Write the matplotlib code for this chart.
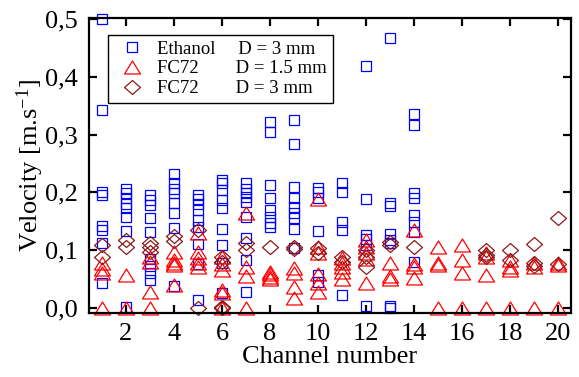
import matplotlib
matplotlib.use("Agg")
import matplotlib.pyplot as plt
from matplotlib.path import Path
from matplotlib.markers import MarkerStyle
from matplotlib.ticker import FixedLocator, FuncFormatter

plt.rcParams['font.family'] = ['Liberation Serif', 'DejaVu Serif']
plt.rcParams['mathtext.fontset'] = 'custom'
plt.rcParams['mathtext.rm'] = 'Liberation Serif'
plt.rcParams['mathtext.it'] = 'Liberation Serif:italic'

# Measured velocities per channel (m/s)
eth_channels = list(range(1, 15))
eth_vel = [
    [0.50, 0.343, 0.201, 0.196, 0.142, 0.135, 0.113, 0.043],
    [0.206, 0.198, 0.19, 0.18, 0.172, 0.158, 0.133, 0.002],
    [0.195, 0.187, 0.178, 0.156, 0.132, 0.085, 0.072, 0.06, 0.048],
    [0.232, 0.217, 0.205, 0.199, 0.182, 0.165, 0.139, 0.038],
    [0.196, 0.188, 0.18, 0.17, 0.152, 0.14, 0.11, 0.075, 0.013],
    [0.222, 0.216, 0.204, 0.187, 0.172, 0.137, 0.109, 0.078, 0.026],
    [0.216, 0.205, 0.198, 0.192, 0.184, 0.158, 0.121, 0.083, 0.028],
    [0.321, 0.305, 0.213, 0.19, 0.17, 0.158, 0.147, 0.14],
    [0.326, 0.283, 0.21, 0.19, 0.174, 0.165, 0.156, 0.137, 0.104],
    [0.208, 0.2, 0.19, 0.133, 0.057, 0.045],
    [0.217, 0.201, 0.149, 0.135, 0.023],
    [0.418, 0.189, 0.126, 0.119, 0.108, 0.003],
    [0.468, 0.182, 0.177, 0.127, 0.118, 0.112, 0.003, 0.0],
    [0.336, 0.317, 0.198, 0.19, 0.161, 0.149, 0.132, 0.08],
]

fc15_channels = list(range(1, 21))
fc15_vel = [
    [0.077, 0.068, 0.06, 0.0],
    [0.057, 0.0],
    [0.088, 0.08, 0.028, 0.0],
    [0.096, 0.082, 0.078, 0.074, 0.04],
    [0.13, 0.097, 0.087, 0.078, 0.071],
    [0.088, 0.075, 0.066, 0.03, 0.026, 0.0],
    [0.165, 0.07, 0.055, 0.0],
    [0.062, 0.058, 0.054, 0.05],
    [0.069, 0.06, 0.036, 0.017],
    [0.188, 0.105, 0.095, 0.058, 0.043, 0.028],
    [0.087, 0.078, 0.07, 0.062, 0.05],
    [0.118, 0.105, 0.095, 0.085, 0.043],
    [0.078, 0.055, 0.05],
    [0.135, 0.075, 0.07, 0.052],
    [0.106, 0.078, 0.074, 0.0],
    [0.109, 0.083, 0.06, 0.0],
    [0.095, 0.088, 0.057, 0.0],
    [0.083, 0.07, 0.066, 0.0],
    [0.078, 0.07, 0.0],
    [0.078, 0.074, 0.0],
]

fc3_channels = list(range(1, 21))
fc3_vel = [
    [0.109, 0.088],
    [0.118, 0.106],
    [0.113, 0.105, 0.097],
    [0.125, 0.116],
    [0.134, 0.0],
    [0.088, 0.08, 0.002, 0.0],
    [0.113, 0.1],
    [0.106],
    [0.106, 0.101],
    [0.104, 0.095],
    [0.088, 0.08],
    [0.1, 0.088, 0.07],
    [0.114, 0.109],
    [0.106],
    [],
    [],
    [0.1, 0.092, 0.088],
    [0.1, 0.082],
    [0.111, 0.077, 0.072],
    [0.156, 0.075],
]

series_labels = ["Ethanol    \u2009D = 3 mm", "FC72       \u2009D = 1.5 mm", "FC72       \u2009D = 3 mm"]
x_ticks = [2, 4, 6, 8, 10, 12, 14, 16, 18, 20]
y_ticks = [0.0, 0.1, 0.2, 0.3, 0.4, 0.5]


def flatten(channels, values):
    xs, ys = [], []
    for ch, vals in zip(channels, values):
        for v in vals:
            xs.append(ch)
            ys.append(v)
    return xs, ys


tri = MarkerStyle(Path([(-1, -0.8125), (1, -0.8125), (0, 0.8125), (-1, -0.8125)],
                       [Path.MOVETO, Path.LINETO, Path.LINETO, Path.CLOSEPOLY]))
dia = MarkerStyle(Path([(0, 0.875), (1, 0), (0, -0.875), (-1, 0), (0, 0.875)],
                       [Path.MOVETO, Path.LINETO, Path.LINETO, Path.LINETO, Path.CLOSEPOLY]))

fig = plt.figure(figsize=(5.79, 3.77), dpi=100)
ax = fig.add_axes([0.1537, 0.1698, 0.8325, 0.7825])

x, y = flatten(eth_channels, eth_vel)
ax.plot(x, y, linestyle='none', marker='s', markersize=7.8, markerfacecolor='none',
        markeredgecolor='#0000ff', markeredgewidth=0.9, label=series_labels[0], clip_on=False)
x, y = flatten(fc15_channels, fc15_vel)
ax.plot(x, y, linestyle='none', marker=tri, markersize=11.5, markerfacecolor='none',
        markeredgecolor='#ff0000', markeredgewidth=0.9, label=series_labels[1], clip_on=False)
x, y = flatten(fc3_channels, fc3_vel)
ax.plot(x, y, linestyle='none', marker=dia, markersize=11.5, markerfacecolor='none',
        markeredgecolor='#8b1a1a', markeredgewidth=0.9, label=series_labels[2], clip_on=False)

ax.set_xlim(0.46, 20.54)
ax.set_ylim(-0.009, 0.502)

ax.xaxis.set_major_locator(FixedLocator(x_ticks))
ax.yaxis.set_major_locator(FixedLocator(y_ticks))
ax.yaxis.set_major_formatter(FuncFormatter(lambda v, p: f"{v:.1f}".replace('.', ',')))

for s in ax.spines.values():
    s.set_linewidth(1.6)
ax.tick_params(which='major', direction='in', length=6, width=1.6,
               top=True, right=True, labelsize=19)
ax.tick_params(axis='x', pad=7)
ax.tick_params(axis='y', pad=8)

ax.set_xlabel("Channel number", fontsize=19, labelpad=1)
ax.set_ylabel(r"Velocity [m.s$^{\mathregular{-1}}$]", fontsize=19, labelpad=-1)

leg = ax.legend(loc='upper left', bbox_to_anchor=(0.039, 0.943), borderaxespad=0,
                fontsize=13.5, numpoints=1, handlelength=2.0, handletextpad=0.35,
                borderpad=0.3, labelspacing=0.15, fancybox=False, framealpha=1,
                edgecolor='black')
leg.get_frame().set_linewidth(1.0)

fig.savefig("out.png", dpi=100)
